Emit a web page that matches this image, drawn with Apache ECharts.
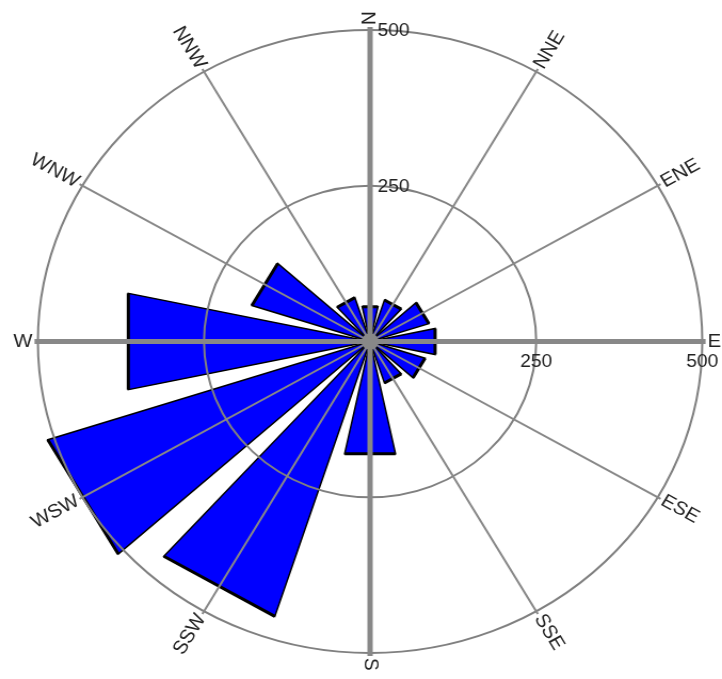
<!DOCTYPE html>
<html>
<head>
<meta charset="utf-8">
<title>Wind rose</title>
<script src="https://cdn.jsdelivr.net/npm/echarts@6/dist/echarts.min.js"></script>
<style>
html, body { margin: 0; padding: 0; background: #fff; overflow: hidden; }
/* the reference rose is a little wider than tall */
#main { width: 677px; height: 679px; transform: scaleX(1.0665); transform-origin: 0 0; }
</style>
</head>
<body>
<div id="main"></div>
<script>
var directions = ['N', 'NNE', 'ENE', 'E', 'ESE', 'SSE', 'S', 'SSW', 'WSW', 'W', 'WNW', 'NNW'];
var angles = [0, 30, 60, 90, 120, 150, 180, 210, 240, 270, 300, 330];
var counts = [57, 70, 93, 100, 87, 70, 184, 464, 510, 372, 187, 74];
var ringValues = [250, 500];
var ringLabels = ['250', '500'];

var halfWidth = 12; // degrees each side of the bar centre
var labelFont = '19px "Liberation Sans", Arial, sans-serif';

var myChart = echarts.init(document.getElementById('main'));

function wrap(a) {
    return (a + 360) % 360;
}

// bars: flat-ended wedges
function renderBar(params, api) {
    var v = api.value(0);
    var a = api.value(1);
    var c = api.coord([0, a]);
    var p1 = api.coord([v, wrap(a - halfWidth)]);
    var p2 = api.coord([v, wrap(a + halfWidth)]);
    return {
        type: 'group',
        children: [{
            type: 'polygon',
            shape: { points: [c, p1, p2] },
            style: { fill: '#0000ff', stroke: '#000', lineWidth: 1.5 }
        }, {
            type: 'line',
            shape: { x1: p1[0], y1: p1[1], x2: p2[0], y2: p2[1] },
            style: { stroke: '#000', lineWidth: 3 }
        }]
    };
}

// gray spokes, main axes thicker
function renderSpoke(params, api) {
    var a = api.value(1);
    var c = api.coord([0, a]);
    var p = api.coord([505, a]);
    return {
        type: 'line',
        shape: { x1: c[0], y1: c[1], x2: p[0], y2: p[1] },
        style: { stroke: '#888', lineWidth: a % 90 === 0 ? 5 : 2 }
    };
}

function renderDirLabel(params, api) {
    var a = api.value(1);
    var p = api.coord([508, a]);
    var right = a <= 180;
    var rot = right ? 90 - a : 270 - a;
    return {
        type: 'text',
        x: p[0],
        y: p[1],
        rotation: rot * Math.PI / 180,
        style: {
            text: directions[params.dataIndex],
            font: labelFont,
            fill: '#222',
            align: right ? 'left' : 'right',
            verticalAlign: 'middle'
        }
    };
}

function renderRingLabel(params, api) {
    var v = api.value(0);
    var pn = api.coord([v, 0]);
    var pe = api.coord([v, 90]);
    var txt = ringLabels[params.dataIndex];
    var font = '18px "Liberation Sans", Arial, sans-serif';
    return {
        type: 'group',
        children: [{
            type: 'text',
            x: pn[0] + 7,
            y: pn[1] + 1,
            style: { text: txt, font: font, fill: '#222', align: 'left', verticalAlign: 'middle' }
        }, {
            type: 'text',
            x: pe[0],
            y: pe[1] + 12,
            style: { text: txt, font: font, fill: '#222', align: 'center', verticalAlign: 'top' }
        }]
    };
}

function renderCenter(params, api) {
    var c = api.coord([0, 0]);
    return {
        type: 'circle',
        shape: { cx: c[0], cy: c[1], r: 8 },
        style: { fill: '#888' }
    };
}

myChart.setOption({
    backgroundColor: '#fff',
    animation: false,
    polar: {
        center: [347, 341.5],
        radius: 311.5
    },
    angleAxis: {
        type: 'value',
        min: 0,
        max: 360,
        startAngle: 90,
        clockwise: true,
        axisLine: { show: false },
        axisTick: { show: false },
        axisLabel: { show: false },
        splitLine: { show: false }
    },
    radiusAxis: {
        type: 'value',
        min: 0,
        max: 500,
        interval: 250,
        z: 5,
        axisLine: { show: false },
        axisTick: { show: false },
        axisLabel: { show: false },
        splitLine: {
            show: true,
            lineStyle: { color: '#808080', width: 2 }
        }
    },
    series: [{
        name: 'bars',
        type: 'custom',
        coordinateSystem: 'polar',
        z: 2,
        data: angles.map(function (a, i) { return [counts[i], a]; }),
        renderItem: renderBar
    }, {
        name: 'spokes',
        type: 'custom',
        coordinateSystem: 'polar',
        z: 6,
        data: angles.map(function (a) { return [500, a]; }),
        renderItem: renderSpoke
    }, {
        name: 'centre',
        type: 'custom',
        coordinateSystem: 'polar',
        z: 7,
        data: [[0, 0]],
        renderItem: renderCenter
    }, {
        name: 'directions',
        type: 'custom',
        coordinateSystem: 'polar',
        z: 8,
        data: angles.map(function (a) { return [500, a]; }),
        renderItem: renderDirLabel
    }, {
        name: 'rings',
        type: 'custom',
        coordinateSystem: 'polar',
        z: 8,
        data: ringValues.map(function (v) { return [v, 0]; }),
        renderItem: renderRingLabel
    }]
});
</script>
</body>
</html>
